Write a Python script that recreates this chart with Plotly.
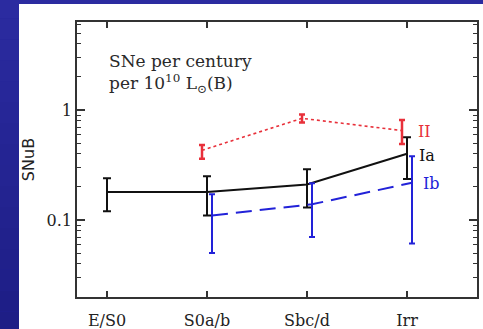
import numpy as np
import plotly.graph_objects as go

# Galaxy morphological classes
categories = ["E/S0", "S0a/b", "Sbc/d", "Irr"]
xpos = [0, 1, 2, 3]

# Type Ia rates (SNuB) with asymmetric errors
ia_val = [0.18, 0.18, 0.21, 0.40]
ia_hi = [0.24, 0.25, 0.29, 0.565]
ia_lo = [0.12, 0.11, 0.13, 0.236]

# Type II rates (no measurement for E/S0)
ii_cat = ["S0a/b", "Sbc/d", "Irr"]
ii_val = [0.43, 0.84, 0.65]
ii_hi = [0.48, 0.91, 0.81]
ii_lo = [0.36, 0.77, 0.49]

# Type Ib/c rates
ib_cat = ["S0a/b", "Sbc/d", "Irr"]
ib_val = [0.11, 0.139, 0.218]
ib_hi = [0.171, 0.216, 0.38]
ib_lo = [0.050, 0.070, 0.061]

SERIF = "DejaVu Serif"


def xof(cats, shift):
    return [categories.index(c) + shift for c in cats]


def errs(val, hi, lo):
    up = [h - v for h, v in zip(hi, val)]
    dn = [v - l for v, l in zip(val, lo)]
    return up, dn


fig = go.Figure()

up, dn = errs(ia_val, ia_hi, ia_lo)
fig.add_trace(go.Scatter(
    x=xpos, y=ia_val, mode="lines",
    line=dict(color="#111111", width=2),
    error_y=dict(type="data", symmetric=False, array=up, arrayminus=dn,
                 color="#111111", thickness=2, width=4),
    showlegend=False,
))

up, dn = errs(ii_val, ii_hi, ii_lo)
fig.add_trace(go.Scatter(
    x=xof(ii_cat, -0.05), y=ii_val, mode="lines",
    line=dict(color="#e8303a", width=1.6, dash="dot"),
    error_y=dict(type="data", symmetric=False, array=up, arrayminus=dn,
                 color="#e8303a", thickness=2.5, width=3),
    showlegend=False,
))

up, dn = errs(ib_val, ib_hi, ib_lo)
fig.add_trace(go.Scatter(
    x=xof(ib_cat, 0.05), y=ib_val, mode="lines",
    line=dict(color="#2222d8", width=2, dash="16px,8px"),
    error_y=dict(type="data", symmetric=False, array=up, arrayminus=dn,
                 color="#2222d8", thickness=2, width=3),
    showlegend=False,
))

# Series labels next to the Irr points
for txt, xx, yy, col in [("II", 3.09, -0.197, "#e8303a"),
                         ("Ia", 3.10, -0.41, "#111111"),
                         ("Ib", 3.14, -0.664, "#2222d8")]:
    fig.add_annotation(x=xx, y=yy, xref="x", yref="y", text=txt,
                       showarrow=False, xanchor="left", yanchor="middle",
                       font=dict(family=SERIF, size=16, color=col))

fig.add_annotation(x=0.0, y=0.445, xref="x", yref="y",
                   text="SNe per century", showarrow=False,
                   xanchor="left", yanchor="middle",
                   font=dict(family=SERIF, size=17, color="#2a2a2a"))
fig.add_annotation(x=0.0, y=0.245, xref="x", yref="y",
                   text="per 10<sup>10</sup> L<sub>⊙</sub>(B)", showarrow=False,
                   xanchor="left", yanchor="middle",
                   font=dict(family=SERIF, size=17, color="#2a2a2a"))

# Slide background: blue gradient strip with a white panel
shapes = []
n = 16
top_c = np.array([0x2b, 0x2b, 0xa0])
bot_c = np.array([0x1e, 0x1e, 0x86])
y_top, y_bot = 1.09, -0.13
for i in range(n):
    f = i / (n - 1)
    c = top_c + (bot_c - top_c) * f
    y1 = y_top + (y_bot - y_top) * i / n
    y0 = y_top + (y_bot - y_top) * (i + 1) / n
    shapes.append(dict(type="rect", xref="paper", yref="paper",
                       x0=-0.2, x1=1.05, y0=y0, y1=y1, layer="below",
                       line=dict(width=0),
                       fillcolor="rgb(%d,%d,%d)" % tuple(c.astype(int))))
shapes.append(dict(type="rect", xref="paper", yref="paper",
                   x0=-0.145, x1=1.05, y0=-0.13, y1=1.0655, layer="below",
                   line=dict(width=0), fillcolor="white"))

minor_vals = [m * 10.0 ** e for e in (-2, -1, 0) for m in range(2, 10)
              if m * 10.0 ** e < 6.4]

fig.update_layout(
    width=483, height=329,
    margin=dict(l=77, r=6, t=22, b=32, autoexpand=False),
    paper_bgcolor="#24249a", plot_bgcolor="white",
    shapes=shapes,
    xaxis=dict(range=[-0.3, 3.7], tickvals=xpos, ticktext=categories,
               ticks="inside", ticklen=6, tickwidth=1.5, tickcolor="#333",
               showline=True, linecolor="#333", linewidth=1.5, mirror="allticks",
               showgrid=False, zeroline=False, ticklabelstandoff=8,
               automargin=False,
               tickfont=dict(family=SERIF, size=16, color="#222")),
    yaxis=dict(type="log", range=[-1.7, 0.8], tickvals=[0.1, 1],
               ticktext=["0.1", "1"], automargin=False,
               ticks="inside", ticklen=8, tickwidth=1.5, tickcolor="#333",
               showline=True, linecolor="#333", linewidth=1.5, mirror="allticks",
               showgrid=False, zeroline=False,
               minor=dict(tickvals=minor_vals, ticks="inside", ticklen=4,
                          tickwidth=1.2, tickcolor="#333", showgrid=False),
               tickfont=dict(family=SERIF, size=16, color="#222"),
               title=dict(text="SNuB", standoff=8,
                          font=dict(family="DejaVu Sans", size=16, color="#222"))),
)

fig.write_html("out.html")
